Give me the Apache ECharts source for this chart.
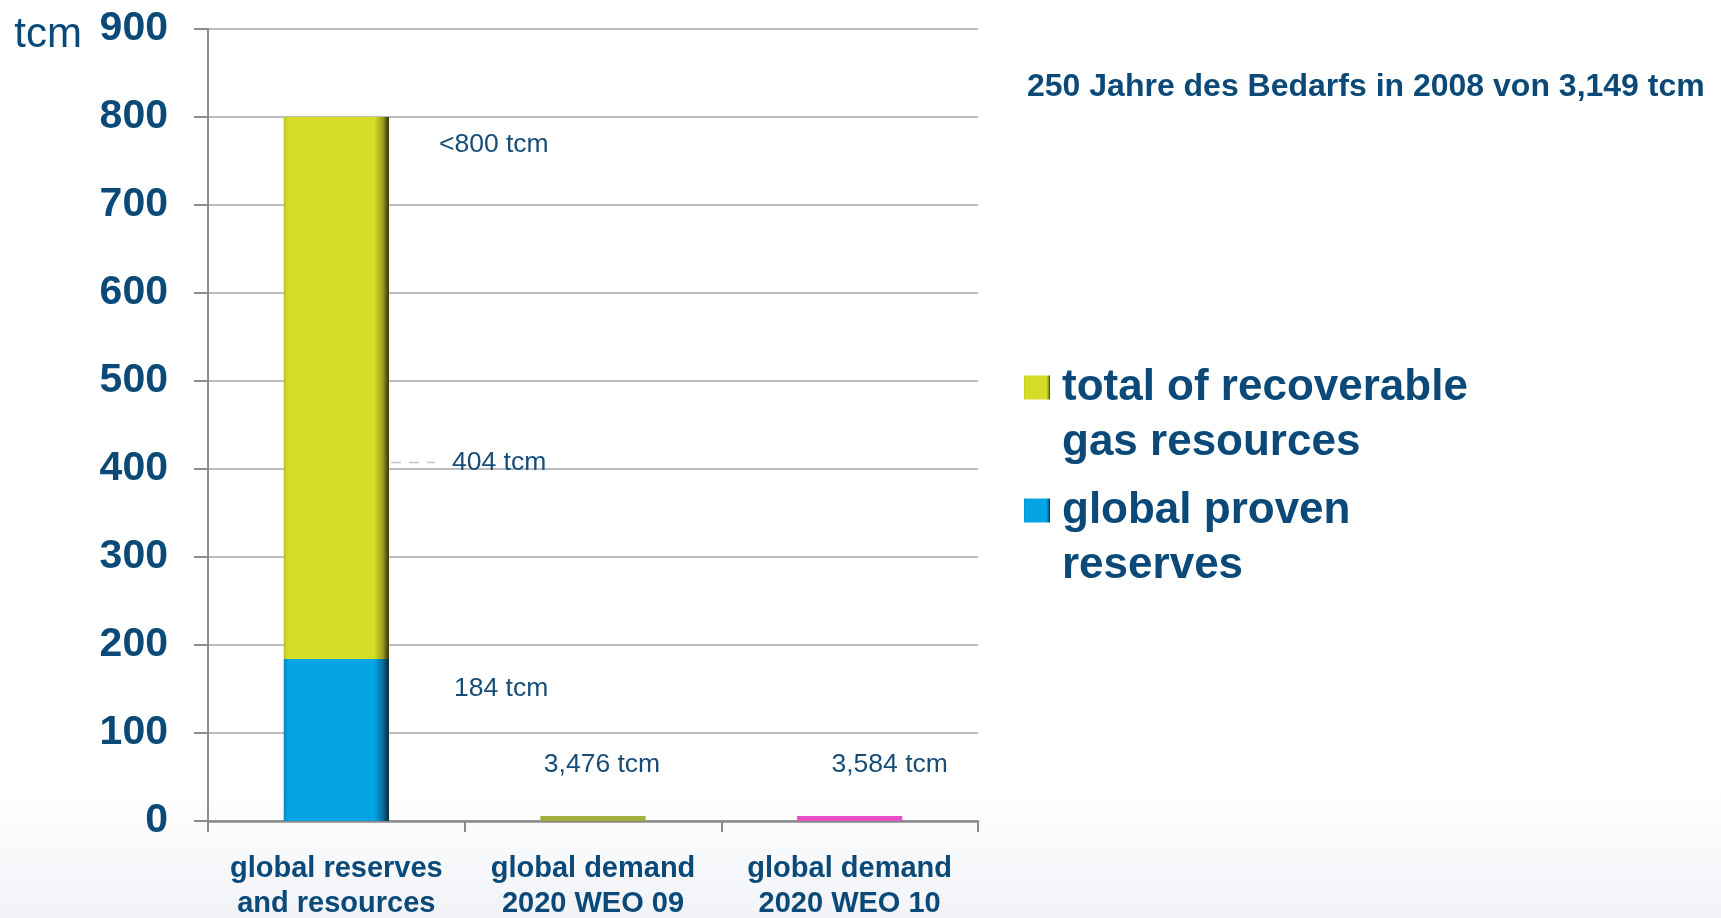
<!DOCTYPE html>
<html><head><meta charset="utf-8">
<script src="https://cdn.jsdelivr.net/npm/echarts@6/dist/echarts.min.js"></script>
<style>
html,body{margin:0;padding:0;width:1721px;height:918px;overflow:hidden;
background:linear-gradient(to bottom,#ffffff 0%,#ffffff 86%,#f1f3f7 100%);}
#chart{width:1721px;height:918px;}
</style></head><body><div id="chart"></div>
<script>
// ---- data ----
const categories = ['global reserves\nand resources', 'global demand\n2020 WEO 09', 'global demand\n2020 WEO 10'];
const provenReserves = [184, null, null];
const totalResources = [800, null, null];
const demand2020 = [null, 3.476, 3.584];
const conventionalResources = [404, null, null];
const labelsProven = ['184 tcm', '', ''];
const labelsTotal = ['<800 tcm', '', ''];
const labelsDemand = ['', '3,476 tcm', '3,584 tcm'];
const labelsConventional = ['404 tcm', '', ''];
const yTickMin = 0, yTickMax = 900, yTickStep = 100;
const seriesNames = ['total of recoverable gas resources', 'global proven reserves'];
const legendText = {
  'total of recoverable gas resources': 'total of recoverable\ngas resources',
  'global proven reserves': 'global proven\nreserves'
};
const titleText = '250 Jahre des Bedarfs in 2008 von 3,149 tcm';
const unitText = 'tcm';

// ---- styles ----
const NAVY = '#0b4a78';
const FONT = '"Liberation Sans", Arial, sans-serif';
const demandColors = [null, '#a2b03b', '#ea4fca'];
const demandLabelOffsets = [[0, 0], [9, -51], [40, -51]];
function grad(edgeL, main, shade, dark) {
  return {type: 'linear', x: 0, y: 0, x2: 1, y2: 0, colorStops: [
    {offset: 0, color: edgeL}, {offset: 0.04, color: main}, {offset: 0.86, color: main},
    {offset: 0.94, color: shade}, {offset: 1, color: dark}]};
}
const yellowFill = grad('#bcc21d', '#d6dd28', '#9ca11a', '#2f310b');
const blueFill = grad('#0a86bb', '#05a4e4', '#07719f', '#0d2735');

const remainder = totalResources.map((v, i) => v == null ? null : v - provenReserves[i]);
const BAR_W = 0.41;

const annLabel = {show: true, fontSize: 26.5, color: '#164d79', fontFamily: FONT,
  align: 'left', verticalAlign: 'middle'};

const chart = echarts.init(document.getElementById('chart'), null, {renderer: 'canvas'});
chart.setOption({
  backgroundColor: 'transparent',
  animation: false,
  title: {text: titleText, left: 1027, top: 71, padding: 0,
    textStyle: {fontSize: 32, fontWeight: 'bold', color: NAVY, fontFamily: FONT}},
  legend: {
    data: seriesNames, orient: 'vertical', left: 1024, top: 305, padding: 0,
    itemGap: -42, itemWidth: 26, itemHeight: 24, icon: 'rect',
    selectedMode: false,
    formatter: n => '\n' + legendText[n],
    textStyle: {fontSize: 44, fontWeight: 'bold', color: NAVY, fontFamily: FONT,
      lineHeight: 55, padding: [0, 0, 0, 7]}
  },
  grid: {left: 208, right: 743, top: 29, bottom: 97, outerBoundsMode: 'none', containLabel: false},
  xAxis: {
    type: 'category', data: categories,
    axisLine: {lineStyle: {color: '#8a8a8a', width: 2.5}},
    axisTick: {show: true, length: 11, lineStyle: {color: '#8a8a8a', width: 2}},
    axisLabel: {interval: 0, fontSize: 29, fontWeight: 'bold', color: NAVY, fontFamily: FONT,
      lineHeight: 35, margin: 30}
  },
  yAxis: {
    type: 'value', min: yTickMin, max: yTickMax, interval: yTickStep,
    name: unitText, nameLocation: 'end', nameGap: -6,
    nameTextStyle: {fontSize: 42, color: NAVY, fontFamily: FONT, align: 'right',
      verticalAlign: 'middle', padding: [0, 126, 0, 0]},
    axisLine: {show: true, lineStyle: {color: '#8c8c8c', width: 2}},
    axisTick: {show: true, length: 14, lineStyle: {color: '#8c8c8c', width: 2}},
    splitLine: {lineStyle: {color: '#a9a9a9', width: 1.5}},
    axisLabel: {fontSize: 41, fontWeight: 'bold', color: NAVY, fontFamily: FONT, margin: 40}
  },
  series: [
    {
      name: seriesNames[1], type: 'bar', stack: 'gas', barWidth: (BAR_W * 100) + '%',
      data: provenReserves, itemStyle: {color: blueFill},
      label: Object.assign({}, annLabel, {position: ['100%', 0], offset: [65, 30],
        formatter: p => labelsProven[p.dataIndex]})
    },
    {
      name: seriesNames[0], type: 'bar', stack: 'gas', barWidth: (BAR_W * 100) + '%',
      data: remainder, itemStyle: {color: yellowFill},
      label: Object.assign({}, annLabel, {position: ['100%', 0], offset: [50, 28],
        formatter: p => labelsTotal[p.dataIndex]})
    },
    {
      name: 'demand', type: 'bar', stack: 'gas', barWidth: (BAR_W * 100) + '%', barMinHeight: 5,
      data: demand2020.map((v, i) => v == null ? null : {
        value: v,
        itemStyle: {color: demandColors[i]},
        label: {offset: demandLabelOffsets[i]}
      }),
      label: Object.assign({}, annLabel, {position: ['50%', 0], align: 'center',
        formatter: p => labelsDemand[p.dataIndex]})
    },
    {
      name: 'conventional', type: 'custom', silent: true, z: 5,
      encode: {x: 0, y: 1},
      data: conventionalResources.map((v, i) => v == null ? null : [i, v]).filter(d => d),
      renderItem: (params, api) => {
        const c = api.coord([api.value(0), api.value(1)]);
        const w = api.size([1, 0])[0] * BAR_W;
        const x0 = c[0] + w / 2;
        const idx = api.value(0);
        return {type: 'group', children: [
          {type: 'line', shape: {x1: x0 + 2, y1: c[1] - 3, x2: x0 + 46, y2: c[1] - 3},
            style: {stroke: '#c6c6c6', lineWidth: 1.5, lineDash: [10, 8]}},
          {type: 'text', x: x0 + 63, y: c[1] - 3,
            style: {text: labelsConventional[idx], fontSize: 26.5, fontFamily: FONT,
              fill: '#164d79', align: 'left', verticalAlign: 'middle'}}
        ]};
      }
    }
  ]
});
</script></body></html>
